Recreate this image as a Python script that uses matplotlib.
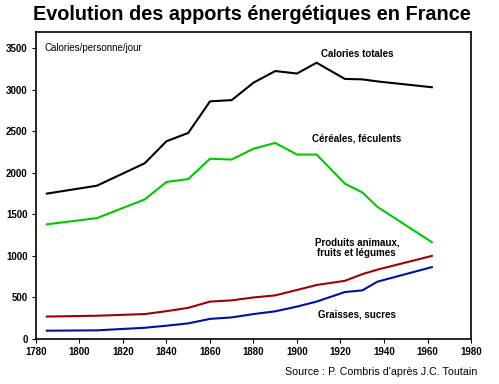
import matplotlib.pyplot as plt

plt.rcParams['font.family'] = ['Liberation Sans', 'DejaVu Sans']

years = [1785, 1808, 1830, 1840, 1850, 1860, 1870, 1880, 1890, 1900, 1909, 1922, 1930, 1937, 1962]
total = [1750, 1845, 2115, 2380, 2480, 2860, 2875, 3085, 3225, 3195, 3325, 3130, 3125, 3100, 3030]
cereales = [1380, 1455, 1680, 1890, 1925, 2170, 2160, 2290, 2360, 2220, 2220, 1870, 1765, 1590, 1165]
animaux = [270, 280, 300, 335, 375, 450, 465, 500, 525, 590, 650, 700, 780, 835, 1000]
graisses = [100, 104, 135, 160, 188, 242, 260, 300, 333, 390, 450, 565, 585, 690, 865]

xticks = list(range(1780, 1981, 20))
yticks = list(range(0, 3501, 500))

fig = plt.figure(figsize=(4.99, 3.84), dpi=100)
ax = fig.add_axes([0.0721, 0.1172, 0.8718, 0.7995])

ax.plot(years, total, color='black', lw=1.5)
ax.plot(years, cereales, color='#00c800', lw=1.5)
ax.plot(years, animaux, color='#a00000', lw=1.5)
ax.plot(years, graisses, color='#0010a0', lw=1.5)

ax.set_xlim(1780, 1980)
ax.set_ylim(0, 3695)
ax.set_xticks(xticks)
ax.set_yticks(yticks)
ax.tick_params(axis='both', direction='out', length=3, width=0.8, labelsize=7, pad=3)
for lab in ax.get_xticklabels() + ax.get_yticklabels():
    lab.set_fontweight('bold')
for s in ax.spines.values():
    s.set_linewidth(1.2)

kw = dict(fontsize=7, fontweight='bold', ha='center', va='center')
ax.text(1927.8, 3433, 'Calories totales', **kw)
ax.text(1927.5, 2415, 'Céréales, féculents', **kw)
ax.text(1927.5, 1095, 'Produits animaux,\nfruits et légumes', linespacing=1.1, **kw)
ax.text(1927.5, 289, 'Graisses, sucres', **kw)
ax.text(1783.7, 3505, 'Calories/personne/jour', fontsize=7, ha='left', va='center')

fig.text(0.504, 0.9635, 'Evolution des apports énergétiques en France',
         fontsize=14.3, fontweight='bold', ha='center', va='center')
fig.text(0.956, 0.0305, "Source : P. Combris d'après J.C. Toutain",
         fontsize=7.7, ha='right', va='center')

fig.savefig('out.png', dpi=100)
